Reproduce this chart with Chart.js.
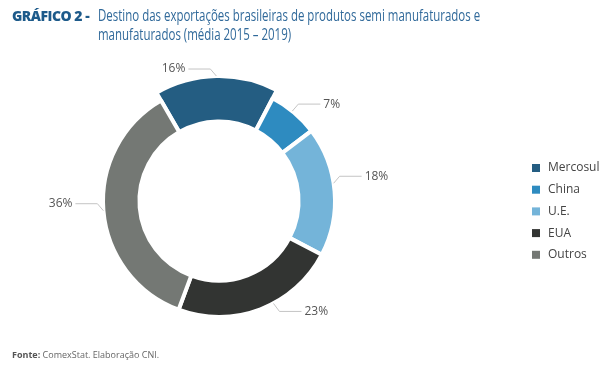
<!DOCTYPE html>
<html>
<head>
<meta charset="utf-8">
<script src="https://cdn.jsdelivr.net/npm/chart.js@4"></script>
<style>
  body { margin: 0; background: #fff; }
  #wrap { position: relative; width: 615px; height: 369px; overflow: hidden; }
  #chart { position: absolute; left: 0; top: 0; }
  .title { position: absolute; left: 12px; top: 6px; font-family: "Open Sans", sans-serif; line-height: 19px; }
  .title b { color: #1d5a8a; font-weight: 800; font-size: 14px; letter-spacing: -0.5px; }
  .title .t { position: absolute; left: 86px; top: 0; width: 560px; font-size: 15.5px; font-weight: 400; color: #30699a; transform: scaleX(0.74); transform-origin: 0 0; }
  .foot { position: absolute; left: 12px; top: 348px; font-family: "Open Sans", sans-serif; font-size: 9px; color: #666; }
  .foot b { color: #555; }
</style>
</head>
<body>
<div id="wrap">
  <canvas id="chart" width="615" height="369"></canvas>
  <div class="title"><b>GRÁFICO 2 -</b><span class="t">Destino das exportações brasileiras de produtos semi manufaturados e<br>manufaturados (média 2015 – 2019)</span></div>
  <div class="foot"><b>Fonte:</b> ComexStat. Elaboração CNI.</div>
</div>
<script>
var labels = ['Mercosul', 'China', 'U.E.', 'EUA', 'Outros'];
var shares = [16, 7, 18, 23, 36];
var colors = ['#245d82', '#2e8bc0', '#74b4d9', '#323432', '#747874'];

// Mercosul aparece com o anel mais grosso (destacado)
var destaque = {
    id: 'destaque',
    afterDatasetsUpdate: function (chart) {
        var arc = chart.getDatasetMeta(0).data[0];
        arc.outerRadius += 9;
    }
};

// rótulos com linha de chamada + legenda à direita
var rotulos = {
    id: 'rotulos',
    afterDraw: function (chart, args, opts) {
        var ctx = chart.ctx;
        var meta = chart.getDatasetMeta(0);
        ctx.save();
        ctx.font = '12px "Open Sans", sans-serif';
        ctx.textBaseline = 'middle';
        meta.data.forEach(function (arc, i) {
            var p = arc.getProps(['x', 'y', 'startAngle', 'endAngle', 'outerRadius'], true);
            var mid = (p.startAngle + p.endAngle) / 2 + (opts.ajuste[i] || 0) * Math.PI / 180;
            var r = p.outerRadius;
            var sx = p.x + Math.cos(mid) * r;
            var sy = p.y + Math.sin(mid) * r;
            var dir = Math.cos(mid) >= 0 ? 1 : -1;
            var dy = Math.sin(mid) > 0.5 ? 8 : -7;
            var ex = sx + dir * 6;
            var ey = sy + dy;
            var hx = ex + dir * 22;
            ctx.strokeStyle = '#c4c4c4';
            ctx.lineWidth = 1;
            ctx.beginPath();
            ctx.moveTo(sx, sy);
            ctx.lineTo(ex, ey);
            ctx.lineTo(hx, ey);
            ctx.stroke();
            ctx.fillStyle = '#555';
            ctx.textAlign = dir > 0 ? 'left' : 'right';
            ctx.fillText(shares[i] + '%', hx + dir * 3, ey);
        });
        // legenda
        ctx.textAlign = 'left';
        labels.forEach(function (lab, i) {
            var y = 168 + i * 21.7;
            ctx.fillStyle = colors[i];
            ctx.fillRect(532, y - 4, 8, 8);
            ctx.fillStyle = '#444';
            ctx.fillText(lab, 548, y);
        });
        ctx.restore();
    }
};

new Chart(document.getElementById('chart').getContext('2d'), {
    type: 'doughnut',
    data: {
        labels: labels,
        datasets: [{
            data: shares,
            backgroundColor: colors,
            borderColor: '#ffffff',
            borderWidth: 4,
            hoverOffset: 0
        }]
    },
    options: {
        responsive: false,
        animation: false,
        rotation: -30,
        cutout: '68.6%',
        layout: { padding: { left: 100, right: 277, top: 83, bottom: 50 } },
        plugins: {
            legend: { display: false },
            tooltip: { enabled: false },
            rotulos: { ajuste: [0, -1, -4, -7, 0] }
        }
    },
    plugins: [destaque, rotulos]
});
</script>
</body>
</html>
